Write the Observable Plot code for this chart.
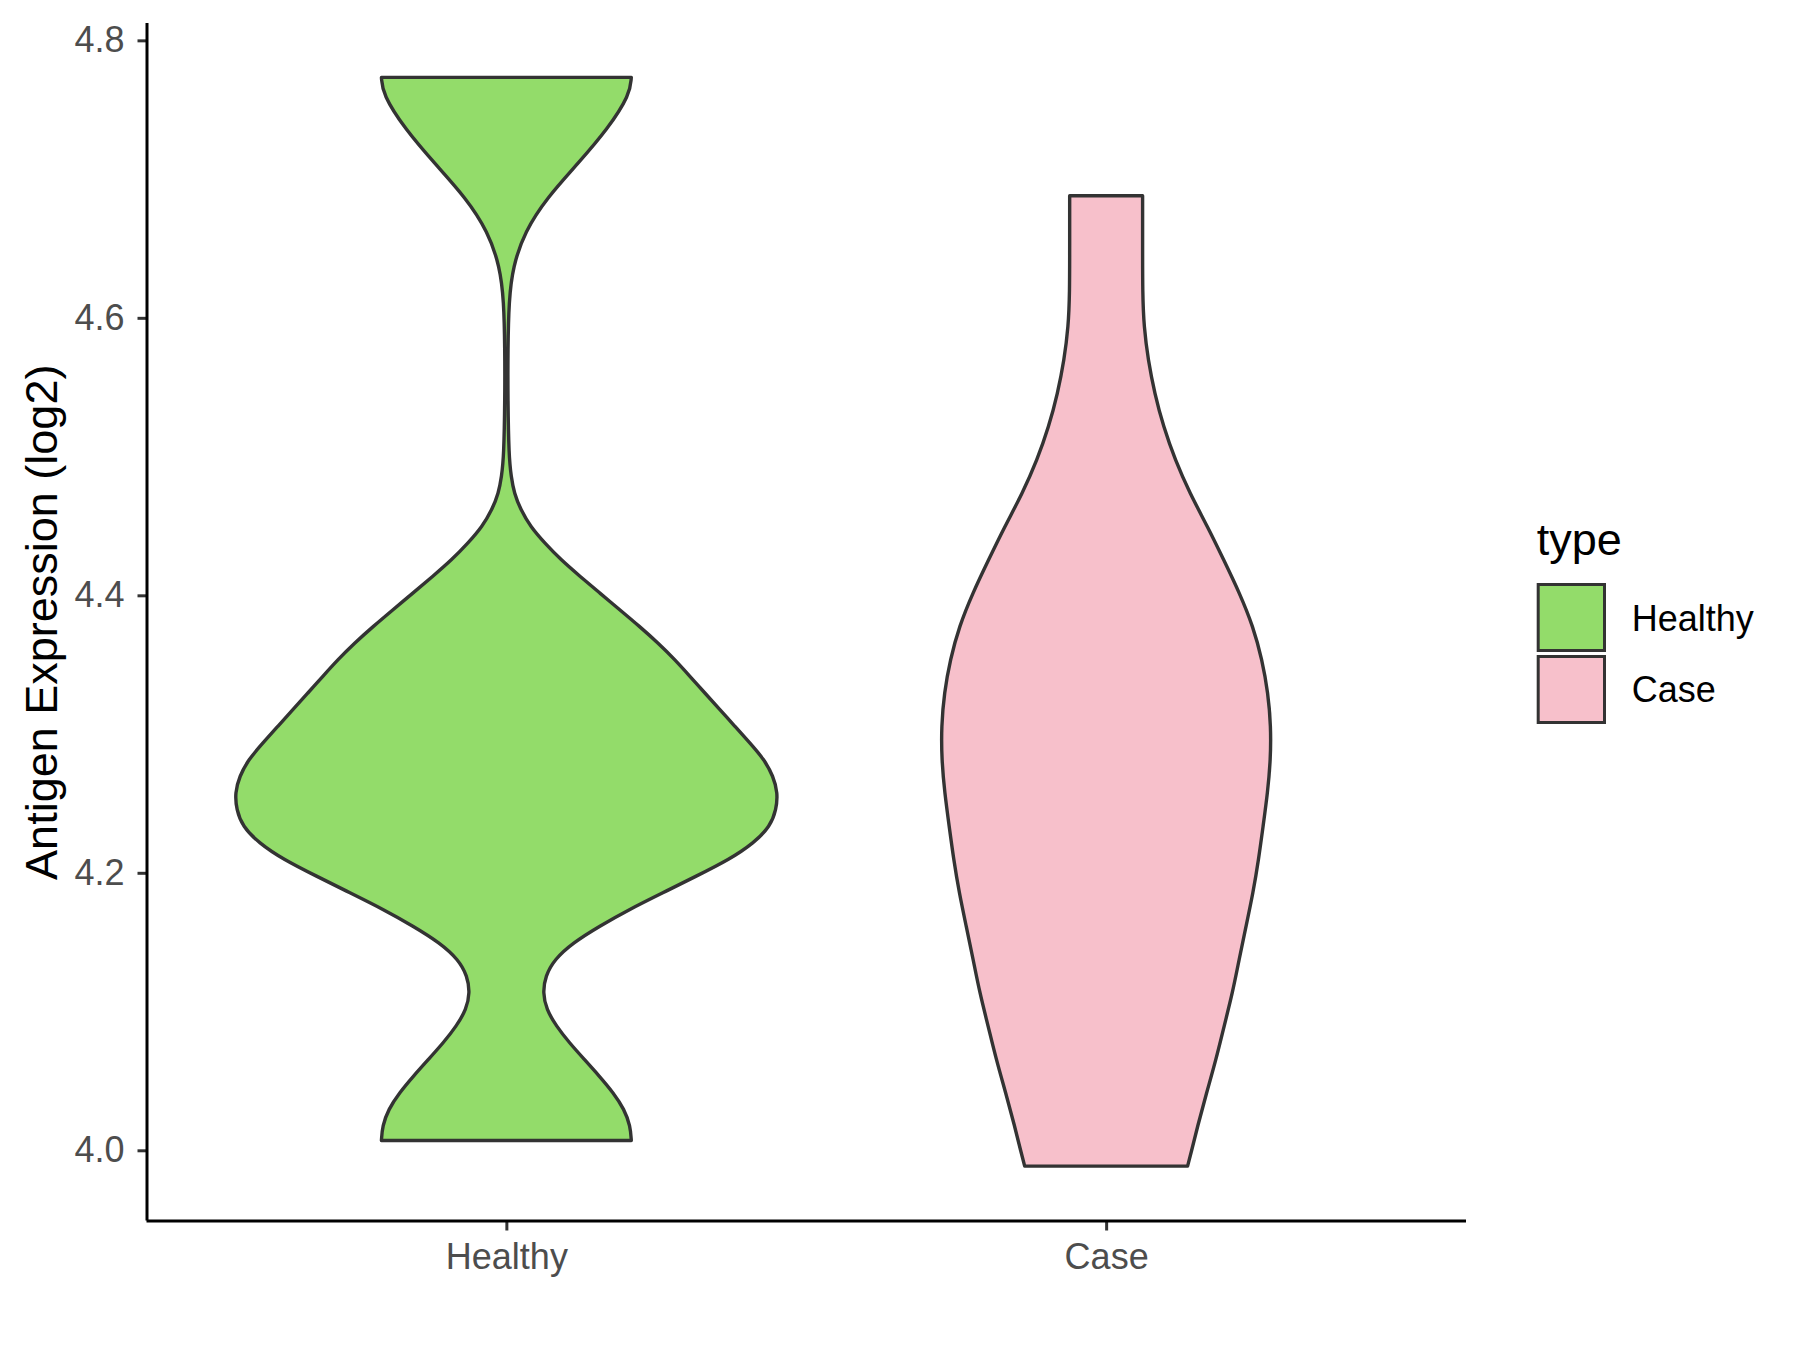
<!DOCTYPE html>
<html><head><meta charset="utf-8">
<script src="https://cdn.jsdelivr.net/npm/d3@7"></script>
<script src="https://cdn.jsdelivr.net/npm/@observablehq/plot@0.6"></script>
<style>
body{margin:0;background:#fff;font-family:"Liberation Sans",Arial,sans-serif;}
#wrap{position:relative;width:1800px;height:1350px;background:#fff;}
#chart{position:absolute;left:0;top:0;}
#legend{position:absolute;left:1500px;top:480px;}
</style></head><body>
<div id="wrap"><div id="chart"></div><div id="legend"></div></div>
<script>
const categories = ["Healthy", "Case"];
const fills = ["#93DC6A", "#F7C0CB"];
const yTicks = [4.0, 4.2, 4.4, 4.6, 4.8];
const legendTitle = "type";
const yTitle = "Antigen Expression (log2)";

// violin outlines: expression value and half-width (fraction of category spacing)
const healthyY = [4.0071, 4.0174, 4.0295, 4.0415, 4.0535, 4.0655, 4.0775, 4.0895, 4.1015, 4.1136, 4.1255, 4.1375, 4.1495, 4.1615, 4.1736, 4.1856, 4.1976, 4.2096, 4.2216, 4.2336, 4.2456, 4.2576, 4.2696, 4.2816, 4.2936, 4.3056, 4.3176, 4.3296, 4.3416, 4.3536, 4.3656, 4.3776, 4.3896, 4.4016, 4.4136, 4.4256, 4.4376, 4.4496, 4.4616, 4.4736, 4.4856, 4.5002, 4.541, 4.577, 4.6123, 4.6368, 4.662, 4.6865, 4.7115, 4.7362, 4.7611, 4.7733];
const healthyW = [0.2083, 0.2067, 0.1967, 0.1783, 0.155, 0.13, 0.105, 0.0833, 0.0667, 0.0608, 0.065, 0.08, 0.1108, 0.155, 0.205, 0.2608, 0.3167, 0.3717, 0.4130, 0.4400, 0.4500, 0.4525, 0.4450, 0.4300, 0.4060, 0.3810, 0.3560, 0.3310, 0.3060, 0.2810, 0.2530, 0.2220, 0.1890, 0.1560, 0.1230, 0.0910, 0.0640, 0.0400, 0.0240, 0.0130, 0.0080, 0.0042, 0.0025, 0.0025, 0.0042, 0.0108, 0.0305, 0.0675, 0.12, 0.1692, 0.2062, 0.2083];
const caseY = [3.9886, 3.9983, 4.0174, 4.0415, 4.0655, 4.0895, 4.1136, 4.1375, 4.1615, 4.1856, 4.2096, 4.2336, 4.2576, 4.2816, 4.3056, 4.3296, 4.3536, 4.3776, 4.4016, 4.4256, 4.4496, 4.4736, 4.4976, 4.5216, 4.5456, 4.5696, 4.5936, 4.6176, 4.6514, 4.688];
const caseW = [0.1358, 0.1417, 0.1525, 0.1675, 0.1833, 0.1967, 0.2108, 0.2217, 0.2333, 0.245, 0.2542, 0.2617, 0.2692, 0.2742, 0.2747, 0.2700, 0.2600, 0.2450, 0.2225, 0.1960, 0.1690, 0.1395, 0.1150, 0.0955, 0.0808, 0.0700, 0.0630, 0.0608, 0.0608, 0.0608];

const yDomain = [3.9494, 4.8125];
const xDomain = [0.4, 2.6];

const rows = [];
[[healthyY, healthyW], [caseY, caseW]].forEach(([ys, ws], i) => {
  ys.forEach((y, j) => rows.push({type: categories[i], pos: i + 1, y, w: ws[j]}));
});

const font = '"Liberation Sans", Arial, sans-serif';

const chart = Plot.plot({
  width: 1500, height: 1350,
  marginLeft: 146.5, marginRight: 34, marginTop: 23, marginBottom: 129.5,
  style: {fontFamily: font, background: "white", overflow: "visible"},
  x: {type: "linear", domain: xDomain, axis: null},
  y: {domain: yDomain, axis: null},
  color: {domain: categories, range: fills},
  marks: [
    Plot.areaX(rows, {
      y: "y", x1: d => d.pos - d.w, x2: d => d.pos + d.w, z: "type",
      fill: "type", stroke: "#333333", strokeWidth: 3.4, curve: "basis"
    }),
    Plot.axisY({ticks: yTicks, tickFormat: d3.format(".1f"), tickSize: 9, tickPadding: 13.5,
      fontSize: 36, stroke: "#333333", fill: "#4D4D4D", strokeWidth: 3, label: null}),
    Plot.axisX({ticks: [1, 2], tickFormat: d => categories[d - 1], tickSize: 10, tickPadding: 12,
      fontSize: 36, stroke: "#333333", fill: "#4D4D4D", strokeWidth: 3, label: null}),
    Plot.ruleX([xDomain[0]], {stroke: "black", strokeWidth: 3}),
    Plot.ruleY([yDomain[0]], {stroke: "black", strokeWidth: 3}),
    Plot.text([yTitle], {text: d => d, frameAnchor: "left", textAnchor: "middle", dx: -104, rotate: -90, fontSize: 45, fill: "black"})
  ]
});
document.getElementById("chart").appendChild(chart);

// legend
const lg = d3.select("#legend").append("svg").attr("width", 300).attr("height", 280)
  .style("font-family", font);
lg.append("text").attr("x", 36.7).attr("y", 75).attr("font-size", 45).attr("fill", "black").text(legendTitle);
categories.forEach((c, i) => {
  lg.append("rect").attr("x", 38.2).attr("y", 104.5 + i * 72).attr("width", 66.3).attr("height", 66)
    .attr("fill", fills[i]).attr("stroke", "#333333").attr("stroke-width", 3);
  lg.append("text").attr("x", 131.7).attr("y", 150.7 + i * 71.5).attr("font-size", 36).attr("fill", "black").text(c);
});
</script>
</body></html>
